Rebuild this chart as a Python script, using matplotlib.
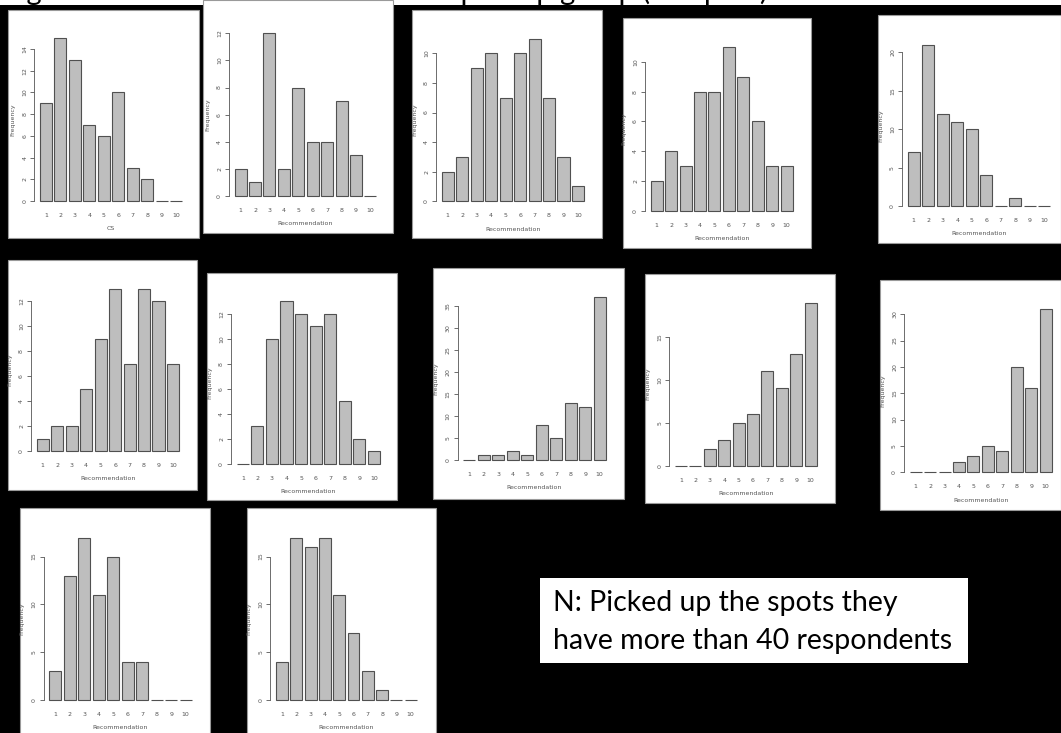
import numpy as np
import matplotlib
matplotlib.use("Agg")
import matplotlib.pyplot as plt
from matplotlib.patches import Rectangle

W, H = 1061, 733

scores = list(range(1, 11))

# frequencies, left to right, top to bottom
spot01 = [9, 15, 13, 7, 6, 10, 3, 2, 0, 0]
spot02 = [2, 1, 12, 2, 8, 4, 4, 7, 3, 0]
spot03 = [2, 3, 9, 10, 7, 10, 11, 7, 3, 1]
spot04 = [2, 4, 3, 8, 8, 11, 9, 6, 3, 3]
spot05 = [7, 21, 12, 11, 10, 4, 0, 1, 0, 0]
spot06 = [1, 2, 2, 5, 9, 13, 7, 13, 12, 7]
spot07 = [0, 3, 10, 13, 12, 11, 12, 5, 2, 1]
spot08 = [0, 1, 1, 2, 1, 8, 5, 13, 12, 37]
spot09 = [0, 0, 2, 3, 5, 6, 11, 9, 13, 19]
spot10 = [0, 0, 0, 2, 3, 5, 4, 20, 16, 31]
spot11 = [3, 13, 17, 11, 15, 4, 4, 0, 0, 0]
spot12 = [4, 17, 16, 17, 11, 7, 3, 1, 0, 0]

series = [spot01, spot02, spot03, spot04, spot05, spot06,
          spot07, spot08, spot09, spot10, spot11, spot12]
xlabels = ["CS"] + ["Recommendation"] * 11
ytick_step = [2, 2, 2, 2, 5, 2, 2, 5, 5, 5, 5, 5]

# white panel boxes and plot regions, in pixels (x0, y0, x1, y1) from top-left
boxes = [(8, 10, 199, 238), (203, 0, 393, 233), (412, 10, 602, 238),
         (623, 18, 811, 248), (878, 15, 1061, 243),
         (8, 260, 197, 490), (207, 273, 397, 500), (433, 268, 624, 499),
         (645, 274, 835, 503), (880, 280, 1061, 510),
         (20, 508, 210, 740), (247, 508, 436, 740)]
regions = [(34.3, 31.6, 187.7, 207.5), (229, 26.8, 382, 202.5), (436, 32, 589.7, 207.8),
           (645, 40.6, 798.4, 217.2), (902, 38.3, 1056, 212.5),
           (31, 282, 184.7, 457.5), (231, 294.6, 385.7, 470.5), (457.6, 290.8, 611.4, 466.2),
           (669.3, 296.1, 822.3, 472.2), (904, 302.4, 1057.4, 478.8),
           (43.6, 531, 197.4, 706.5), (270.4, 531, 422.3, 706.5)]


def fig_rect(x0, y0, x1, y1):
    return [x0 / W, 1 - y1 / H, (x1 - x0) / W, (y1 - y0) / H]


fig = plt.figure(figsize=(W / 100, H / 100), dpi=100, facecolor="black")

# white strip at the top with the cut-off slide title
fig.add_artist(Rectangle((0, 1 - 5 / H), 1, 5 / H, transform=fig.transFigure,
                         facecolor="white", edgecolor="none", zorder=-2))
fig.text(3 / W, 1 + 0.5 / H, "Figure 3 Recommendation for each pick up group (12 spots)",
         fontsize=21, family="Lato", color="black", va="baseline", ha="left")

grey = "#555555"
xpos = 0.7 + 1.2 * np.arange(10)

for vals, xl, step, box, reg in zip(series, xlabels, ytick_step, boxes, regions):
    fig.add_artist(Rectangle((box[0] / W, 1 - box[3] / H), (box[2] - box[0]) / W,
                             (box[3] - box[1]) / H, transform=fig.transFigure,
                             facecolor="white", edgecolor="#9a9a9a", lw=0.8, zorder=-1))
    ax = fig.add_axes(fig_rect(*reg))
    ax.patch.set_alpha(0)
    ax.bar(xpos, vals, width=1.0, color="#bebebe", edgecolor="#505050", linewidth=0.8)
    top = max(vals)
    ax.set_xlim(-0.272, 12.472)
    ax.set_ylim(-0.04 * top, 1.04 * top)
    ticks = np.arange(0, top + 0.01, step)
    ax.set_yticks(ticks)
    ax.set_yticklabels([str(int(t)) for t in ticks])
    ax.set_xticks(xpos)
    ax.set_xticklabels([str(s) for s in scores])
    for s in ["top", "right", "bottom"]:
        ax.spines[s].set_visible(False)
    ax.spines["left"].set_bounds(0, ticks[-1])
    ax.spines["left"].set_color(grey)
    ax.spines["left"].set_linewidth(0.6)
    ax.tick_params(axis="x", length=0, pad=4, labelsize=4.5, colors=grey)
    ax.tick_params(axis="y", length=3, width=0.6, pad=2, labelsize=4.5,
                   colors=grey, labelrotation=90)
    for lbl in ax.get_yticklabels():
        lbl.set_va("center")
    ax.set_xlabel(xl, fontsize=4.5, color=grey, labelpad=6)
    ax.set_ylabel("Frequency", fontsize=4.5, color=grey, labelpad=5)

# note box
fig.add_artist(Rectangle((540 / W, 1 - 663 / H), 428 / W, 85 / H, transform=fig.transFigure,
                         facecolor="white", edgecolor="none", zorder=-1))
fig.text(553 / W, 1 - 603 / H, "N: Picked up the spots they", fontsize=20.5,
         family="Lato", color="black", va="center", ha="left")
fig.text(553 / W, 1 - 641 / H, "have more than 40 respondents", fontsize=20.5,
         family="Lato", color="black", va="center", ha="left")

fig.savefig("out.png", dpi=100, facecolor="black")
